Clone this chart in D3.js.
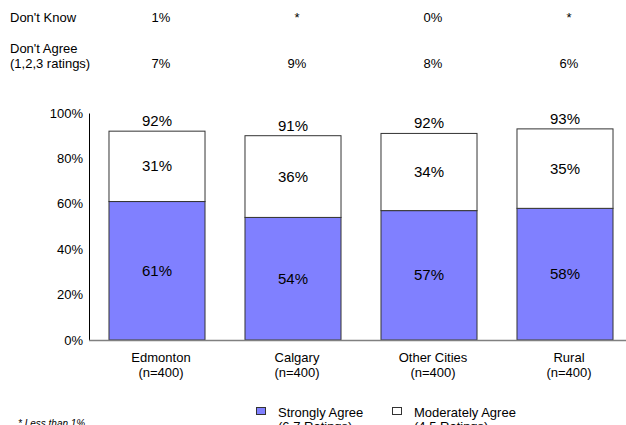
<!DOCTYPE html>
<html><head><meta charset="utf-8">
<script src="https://cdn.jsdelivr.net/npm/d3@7"></script>
<style>
body{margin:0;background:#fff;}
text{font-family:Arial,"Liberation Sans",sans-serif;fill:#000;}
</style></head><body>
<svg id="c" width="626" height="425"></svg>
<script>
const categories = ["Edmonton","Calgary","Other Cities","Rural"];
const sampleLabels = ["(n=400)","(n=400)","(n=400)","(n=400)"];
const stronglyAgree = [61,54,57,58];
const moderatelyAgree = [31,36,34,35];
const totalLabels = ["92%","91%","92%","93%"];
const dontKnow = ["1%","*","0%","*"];
const dontAgree = ["7%","9%","8%","6%"];
const yTicks = [0,20,40,60,80,100];
const seriesNames = [["Strongly Agree","(6,7 Ratings)"],["Moderately Agree","(4,5 Ratings)"]];
const colors = ["#8080FF","#FFFFFF"];

const svg = d3.select("#c");
const x = d3.scaleBand().domain(categories).range([89,633]).paddingInner(0.294).paddingOuter(0.147);
const y = d3.scaleLinear().domain([0,100]).range([340,113]);

// table rows at top
svg.append("text").attr("x",10).attr("y",22).attr("font-size",13).text("Don't Know");
svg.append("text").attr("x",10).attr("y",53).attr("font-size",13).text("Don't Agree");
svg.append("text").attr("x",10).attr("y",68).attr("font-size",13).text("(1,2,3 ratings)");
categories.forEach((c,i)=>{
  const cx = x(c)+x.bandwidth()/2+4;
  svg.append("text").attr("x",cx).attr("y",22).attr("text-anchor","middle").attr("font-size",13).text(dontKnow[i]);
  svg.append("text").attr("x",cx).attr("y",68).attr("text-anchor","middle").attr("font-size",13).text(dontAgree[i]);
});

// y axis
const yAxis = d3.axisLeft(y).tickValues(yTicks).tickSize(0).tickPadding(6).tickFormat(d=>d+"%");
const ga = svg.append("g").attr("transform","translate(89,0)").call(yAxis);
ga.select(".domain").attr("stroke","#000");
ga.selectAll("text").attr("font-size",13).attr("font-family","Arial, 'Liberation Sans', sans-serif");

// stacked bars
const stackData = categories.map((c,i)=>({cat:c, s:stronglyAgree[i], m:moderatelyAgree[i]}));
const stack = d3.stack().keys(["s","m"])(stackData);
stack.forEach((layer,li)=>{
  svg.append("g").selectAll("rect").data(layer).join("rect")
    .attr("x",d=>x(d.data.cat)).attr("width",x.bandwidth())
    .attr("y",d=>y(d[1])).attr("height",d=>y(d[0])-y(d[1]))
    .attr("fill",colors[li]).attr("stroke","#333").attr("stroke-width",1);
  svg.append("g").selectAll("text").data(layer).join("text")
    .attr("x",d=>x(d.data.cat)+x.bandwidth()/2)
    .attr("y",d=>(y(d[0])+y(d[1]))/2+5)
    .attr("text-anchor","middle").attr("font-size",15)
    .text(d=>(d[1]-d[0])+"%");
});
// total labels
svg.append("g").selectAll("text").data(stack[1]).join("text")
  .attr("x",d=>x(d.data.cat)+x.bandwidth()/2)
  .attr("y",(d)=>y(d[1])-5)
  .attr("text-anchor","middle").attr("font-size",15)
  .text((d,i)=>totalLabels[i]);

// baseline
svg.append("line").attr("x1",89).attr("x2",626).attr("y1",340.5).attr("y2",340.5).attr("stroke","#808080").attr("stroke-width",1.5);

// category labels
categories.forEach((c,i)=>{
  const cx = x(c)+x.bandwidth()/2+4;
  svg.append("text").attr("x",cx).attr("y",362).attr("text-anchor","middle").attr("font-size",13).text(c);
  svg.append("text").attr("x",cx).attr("y",377).attr("text-anchor","middle").attr("font-size",13).text(sampleLabels[i]);
});

// legend
const legX = [256,392];
seriesNames.forEach((n,i)=>{
  svg.append("rect").attr("x",legX[i]+0.5).attr("y",407.5).attr("width",9).attr("height",7)
    .attr("fill",colors[i]).attr("stroke","#333").attr("stroke-width",1);
  svg.append("text").attr("x",legX[i]+22).attr("y",417).attr("font-size",13).text(n[0]);
  svg.append("text").attr("x",legX[i]+22).attr("y",431).attr("font-size",13).text(n[1]);
});

// footnote
svg.append("text").attr("x",18).attr("y",427).attr("font-size",10).attr("font-style","italic").text("* Less than 1%");
</script>
</body></html>
